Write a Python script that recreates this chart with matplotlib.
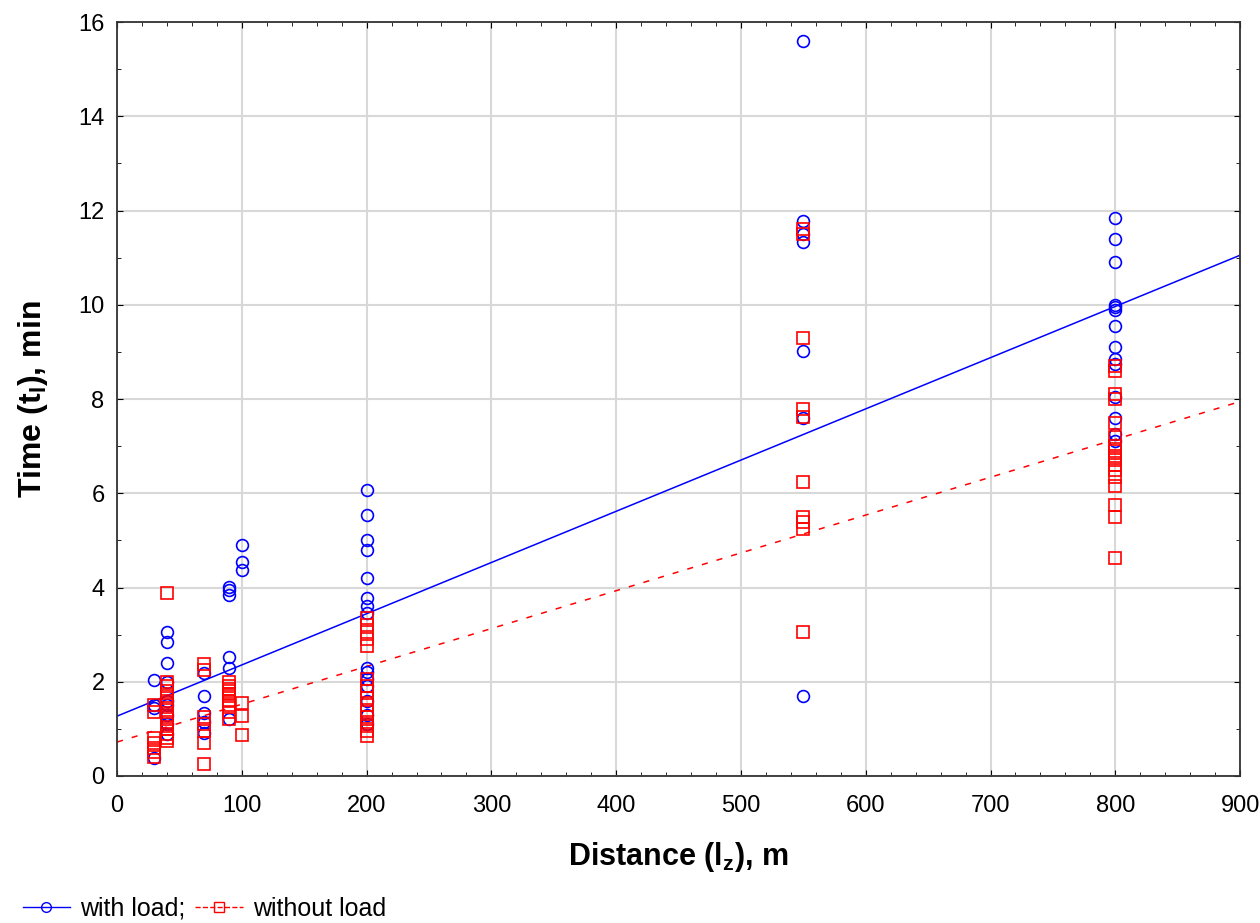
import matplotlib
matplotlib.use("Agg")
import matplotlib.pyplot as plt
from matplotlib.lines import Line2D
from matplotlib.ticker import MultipleLocator
import numpy as np

plt.rcParams['font.family'] = ['Liberation Sans', 'DejaVu Sans']
plt.rcParams['mathtext.fontset'] = 'custom'
plt.rcParams['mathtext.rm'] = 'Liberation Sans:bold'
plt.rcParams['mathtext.bf'] = 'Liberation Sans:bold'

# with load (circles): distance -> times
load_x = {
    30: [2.03, 1.5, 1.45, 0.38],
    40: [3.05, 2.85, 2.4, 2.0, 1.6, 1.5, 1.3, 1.1, 0.9],
    70: [2.18, 1.7, 1.33, 1.15, 0.92],
    90: [4.02, 3.95, 3.85, 2.53, 2.3, 1.2],
    100: [4.9, 4.55, 4.38],
    200: [6.08, 5.53, 5.0, 4.8, 4.2, 3.78, 3.6, 3.45, 2.3, 2.2, 2.05, 1.9, 1.6, 1.3, 1.1],
    550: [15.6, 11.78, 11.5, 11.33, 9.03, 7.6, 1.7],
    800: [11.85, 11.4, 10.9, 10.0, 9.95, 9.9, 9.55, 9.1, 8.85, 8.75, 8.05, 7.6, 7.25, 7.1],
}
# without load (squares)
noload_x = {
    30: [1.5, 1.35, 0.8, 0.7, 0.6, 0.5, 0.4],
    40: [3.88, 2.0, 1.9, 1.8, 1.7, 1.6, 1.5, 1.4, 1.3, 1.2, 1.1, 1.0, 0.9, 0.8, 0.75],
    70: [2.38, 2.25, 1.25, 1.1, 0.95, 0.7, 0.25],
    90: [2.0, 1.9, 1.85, 1.8, 1.75, 1.7, 1.6, 1.5, 1.35, 1.2],
    100: [1.55, 1.27, 0.88],
    200: [3.35, 3.2, 3.05, 2.9, 2.75, 2.05, 1.9, 1.8, 1.65, 1.5, 1.35, 1.25, 1.15, 1.05, 0.95, 0.85],
    550: [11.6, 11.5, 9.3, 7.78, 7.62, 6.23, 5.5, 5.38, 5.25, 3.05],
    800: [8.7, 8.6, 8.1, 8.0, 7.5, 7.2, 7.0, 6.9, 6.8, 6.7, 6.6, 6.5, 6.35, 6.15, 5.75, 5.5, 4.62],
}
# fitted lines: intercept, slope
fit_load = (1.27, 0.01087)
fit_noload = (0.72, 0.00803)

fig = plt.figure(figsize=(12.6, 9.23), dpi=100)
ax = fig.add_axes([0.0929, 0.1593, 0.8913, 0.8167])

lx = np.concatenate([[d] * len(v) for d, v in load_x.items()])
ly = np.concatenate(list(load_x.values()))
nx = np.concatenate([[d] * len(v) for d, v in noload_x.items()])
ny = np.concatenate(list(noload_x.values()))

ax.plot(lx, ly, 'o', mfc='none', mec='blue', ms=8.5, mew=1.2, zorder=3)
ax.plot(nx, ny, 's', mfc='none', mec='red', ms=9, mew=1.2, zorder=3)

xx = np.array([0, 900])
ax.plot(xx, fit_load[0] + fit_load[1] * xx, '-', color='blue', lw=1.1, zorder=2)
ax.plot(xx, fit_noload[0] + fit_noload[1] * xx, '--', color='red', lw=1.1, dashes=(4, 6), zorder=2)

ax.set_xlim(0, 900)
ax.set_ylim(0, 16)
ax.xaxis.set_major_locator(MultipleLocator(100))
ax.xaxis.set_minor_locator(MultipleLocator(20))
ax.yaxis.set_major_locator(MultipleLocator(2))
ax.yaxis.set_minor_locator(MultipleLocator(1))
ax.tick_params(which='both', direction='in', top=True, right=True,
               labelsize=17, color='black')
ax.tick_params(which='major', length=4, pad=9)
ax.tick_params(axis='x', which='major', pad=14)
ax.tick_params(which='minor', length=3)
ax.grid(True, which='major', color='#d8d8d8', lw=1.5)
ax.set_axisbelow(True)
for s in ax.spines.values():
    s.set_color('#333333')
    s.set_linewidth(1.3)

ax.set_xlabel(r'Distance (l$_{\mathbf{z}}$), m', fontsize=22, fontweight='bold', labelpad=16)
ax.set_ylabel(r'Time (t$_{\mathbf{l}}$), min', fontsize=23, fontweight='bold', labelpad=20)

handles = [
    Line2D([], [], color='blue', lw=1, marker='o', mfc='none', mec='blue', ms=7),
    Line2D([], [], color='red', lw=1, ls='--', marker='s', mfc='none', mec='red', ms=7),
]
fig.legend(handles, ['with load;', 'without load'], loc='lower left',
           bbox_to_anchor=(0.0, -0.022), ncol=2, frameon=False, fontsize=18,
           handlelength=1.9, columnspacing=0.4, handletextpad=0.4)

fig.savefig('out.png', dpi=100)
